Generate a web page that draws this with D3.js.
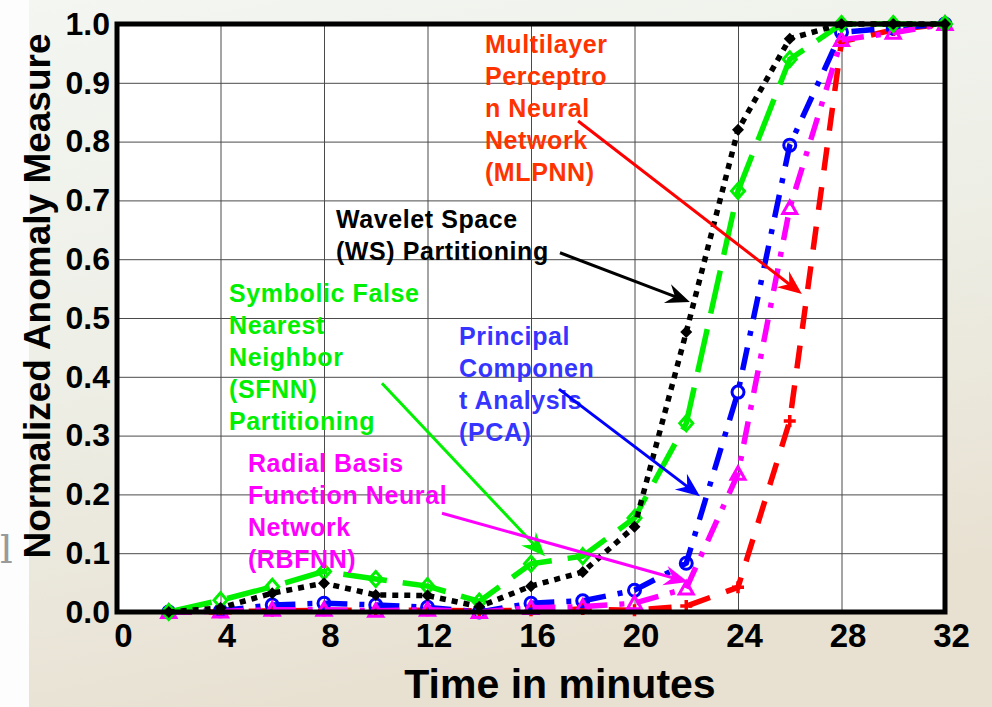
<!DOCTYPE html>
<html>
<head>
<meta charset="utf-8">
<script src="https://cdn.jsdelivr.net/npm/d3@7"></script>
<style>
body{margin:0;background:#fff;}
svg{display:block;}
text{font-family:"Liberation Sans",Arial,sans-serif;font-weight:bold;}
</style>
</head>
<body>
<svg id="chart" width="992" height="707"></svg>
<script>
// ---- data ----
var minutes   =[2,4,6,8,10,12,14,16,18,20,22,24,26,28,30,32]
var mlpnnVals =[0,0,0.002,0.003,0.003,0.003,0.002,0.003,0.005,0.003,0.01,0.042,0.325,0.97,0.99,1.0]
var pcaVals   =[0,0.002,0.012,0.015,0.012,0.008,0,0.015,0.019,0.037,0.083,0.374,0.794,0.986,0.993,1.0]
var rbfnnVals =[0,0.001,0.004,0.004,0.002,0.004,0,0.007,0.009,0.015,0.04,0.235,0.687,0.973,0.985,1.0]
var sfnnVals  =[0,0.02,0.043,0.069,0.056,0.044,0.018,0.082,0.095,0.16,0.321,0.716,0.94,1.0,1.0,1.0]
var wsVals    =[0,0.007,0.032,0.049,0.029,0.028,0.009,0.044,0.068,0.145,0.476,0.82,0.975,1.0,1.0,1.0]
var xTicks    =[0,4,8,12,16,20,24,28,32]
var yTicks    =[0,0.1,0.2,0.3,0.4,0.5,0.6,0.7,0.8,0.9,1.0]

// annotation labels and arrows (data units)
var labelLines=[
  ["Multilayer","Perceptro","n Neural","Network","(MLPNN)"],
  ["Wavelet Space","(WS) Partitioning"],
  ["Symbolic False","Nearest","Neighbor","(SFNN)","Partitioning"],
  ["Principal","Componen","t Analysis","(PCA)"],
  ["Radial Basis","Function Neural","Network","(RBFNN)"]
]
var labelAt   =[[14.22,0.951],[8.46,0.653],[4.33,0.527],[13.22,0.454],[5.06,0.238]]
var arrowFrom =[[17.82,0.835],[17.12,0.611],[10.24,0.389],[17.08,0.379],[12.56,0.168]]
var arrowTo   =[[26.47,0.541],[22.14,0.527],[16.54,0.095],[22.53,0.197],[22.07,0.051]]
var labelColor=["#ff3300","#000000","#00f000","#3535ff","#ff00ff"]
var arrowColor=["#ff0000","#000000","#00f000","#0000ff","#ff00ff"]

var svg=d3.select("#chart")
var plotLeft=117,plotRight=945,plotTop=24,plotBottom=612

var xScale=d3.scaleLinear().domain([0,32]).range([plotLeft,plotRight])
var yScale=d3.scaleLinear().domain([0,1]).range([plotBottom,plotTop])

//---background---
var defs=svg.append("defs")
var bg=defs.append("linearGradient").attr("id","bgGrad")
  .attr("x1","0").attr("y1","0").attr("x2","0.3").attr("y2","1")
bg.append("stop").attr("offset","0").attr("stop-color","#f3f6f1")
bg.append("stop").attr("offset","0.45").attr("stop-color","#eef0e8")
bg.append("stop").attr("offset","1").attr("stop-color","#e8e1d2")
svg.append("rect").attr("width",992).attr("height",707).attr("fill","url(#bgGrad)")
svg.append("rect").attr("width",29).attr("height",707).attr("fill","#fdfdfd")
svg.append("text").attr("x",0).attr("y",563)
  .style("font-family","'DejaVu Serif',serif").style("font-weight","normal")
  .attr("font-size",40).attr("fill","#9a9a9a").text("l")

//---plot face---
svg.append("rect").attr("x",plotLeft).attr("y",plotTop)
  .attr("width",plotRight-plotLeft).attr("height",plotBottom-plotTop).attr("fill","white")

// grid lines
svg.append("g").attr("class","grid")
  .attr("transform","translate(0,"+plotBottom+")")
  .call(d3.axisBottom(xScale).tickValues(xTicks).tickSize(-(plotBottom-plotTop)).tickFormat(""))
svg.append("g").attr("class","grid")
  .attr("transform","translate("+plotLeft+",0)")
  .call(d3.axisLeft(yScale).tickValues(yTicks).tickSize(-(plotRight-plotLeft)).tickFormat(""))
svg.selectAll(".grid .domain").remove()
svg.selectAll(".grid line").attr("stroke","#4a4a4a").attr("stroke-width",1)

//---series---
var series=[
  {vals:mlpnnVals,color:"#ff0000",dash:"23,17",mark:"plus"},
  {vals:pcaVals,color:"#0000ff",dash:"23,12,5,12",mark:"circle"},
  {vals:rbfnnVals,color:"#ff00ff",dash:"23,12,5,12",mark:"triangle"},
  {vals:sfnnVals,color:"#00f000",dash:"44,16",mark:"diamond"},
  {vals:wsVals,color:"#000000",dash:"6,6",mark:"star"}
]

var line=d3.line()
  .x(function(d,i){return xScale(minutes[i])})
  .y(function(d){return yScale(d)})

var markPath={
  plus:"M-6,0H6M0,-6V6",
  triangle:"M0,-7L7,5.5L-7,5.5Z",
  diamond:"M0,-7.5L6.5,0L0,7.5L-6.5,0Z",
  star:"M0,-6L6,0L0,6L-6,0Z"
}

series.forEach(function(s){
  svg.append("path").datum(s.vals)
    .attr("fill","none")
    .attr("stroke",s.color)
    .attr("stroke-width",5.5)
    .attr("stroke-dasharray",s.dash)
    .attr("d",line)
  var g=svg.append("g")
  s.vals.forEach(function(v,i){
    var cx=xScale(minutes[i]),cy=yScale(v)
    if(s.mark=="circle")
    {
      g.append("circle").attr("cx",cx).attr("cy",cy).attr("r",6)
        .attr("fill","none").attr("stroke",s.color).attr("stroke-width",3)
    }
    else if(s.mark=="star")
    {
      g.append("path").attr("d",markPath.star).attr("transform","translate("+cx+","+cy+")")
        .attr("fill",s.color)
    }
    else
    {
      g.append("path").attr("d",markPath[s.mark]).attr("transform","translate("+cx+","+cy+")")
        .attr("fill","none").attr("stroke",s.color).attr("stroke-width",s.mark=="plus"?3.5:3)
    }
  })
})

//---frame---
svg.append("rect").attr("x",plotLeft).attr("y",plotTop)
  .attr("width",plotRight-plotLeft).attr("height",plotBottom-plotTop)
  .attr("fill","none").attr("stroke","black").attr("stroke-width",5)

//---tick labels---
var xAxis=svg.append("g").attr("transform","translate(0,"+plotBottom+")")
  .call(d3.axisBottom(xScale).tickValues(xTicks).tickSize(0).tickPadding(12))
var yAxis=svg.append("g").attr("transform","translate("+plotLeft+",0)")
  .call(d3.axisLeft(yScale).tickValues(yTicks).tickSize(0).tickPadding(7).tickFormat(d3.format(".1f")))
xAxis.select(".domain").remove()
yAxis.select(".domain").remove()
xAxis.selectAll("text").attr("font-size",33).attr("fill","black").attr("dx",6)
  .style("font-family","'Liberation Sans',Arial,sans-serif")
yAxis.selectAll("text").attr("font-size",32).attr("fill","black")
  .style("font-family","'Liberation Sans',Arial,sans-serif")

//---axis titles---
svg.append("text").attr("x",560).attr("y",698).attr("text-anchor","middle")
  .attr("font-size",41).attr("fill","black").text("Time in minutes")
svg.append("text").attr("transform","translate(50,296)rotate(-90)")
  .attr("text-anchor","middle").attr("font-size",37).attr("fill","black")
  .text("Normalized Anomaly Measure")

//---annotations---
var head="M0,0L-24,-10L-16,0L-24,10Z"
labelLines.forEach(function(lines,k){
  var t=svg.append("text").attr("font-size",25).attr("fill",labelColor[k])
    .attr("letter-spacing","0.6")
  lines.forEach(function(str,j){
    t.append("tspan").attr("x",xScale(labelAt[k][0]))
      .attr("y",yScale(labelAt[k][1])+j*32).text(str)
  })
  var x1=xScale(arrowFrom[k][0]),y1=yScale(arrowFrom[k][1])
  var x2=xScale(arrowTo[k][0]),y2=yScale(arrowTo[k][1])
  var ang=Math.atan2(y2-y1,x2-x1)*180/Math.PI
  svg.append("line").attr("x1",x1).attr("y1",y1)
    .attr("x2",x2-15*Math.cos(ang*Math.PI/180)).attr("y2",y2-15*Math.sin(ang*Math.PI/180))
    .attr("stroke",arrowColor[k]).attr("stroke-width",3)
  svg.append("path").attr("d",head)
    .attr("transform","translate("+x2+","+y2+")rotate("+ang+")")
    .attr("fill",arrowColor[k])
})
</script>
</body>
</html>
